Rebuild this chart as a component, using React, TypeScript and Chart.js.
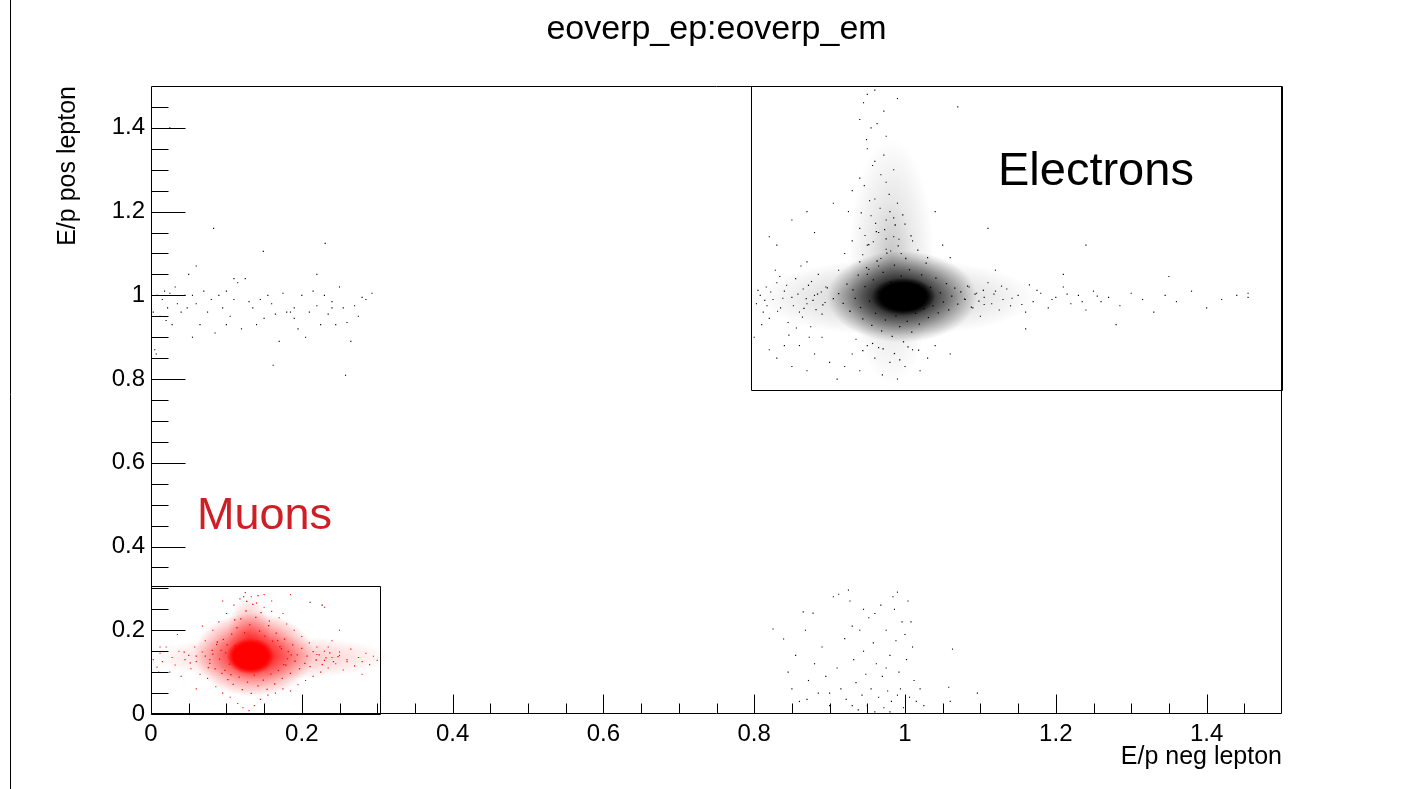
import React, { useEffect, useRef } from "react";
import { Chart, registerables } from "chart.js";

Chart.register(...registerables);

const FONT = "'Liberation Sans', Arial, Helvetica, sans-serif";

const chartTitle = "eoverp_ep:eoverp_em";
const xAxisTitle = "E/p neg lepton";
const yAxisTitle = "E/p pos lepton";

const axisMin = 0;
const axisMax = 1.5;
const majorTicks = [0, 0.2, 0.4, 0.6, 0.8, 1, 1.2, 1.4];
const majorTickLabels = ["0", "0.2", "0.4", "0.6", "0.8", "1", "1.2", "1.4"];
const minorTicks = [0.05, 0.1, 0.15, 0.25, 0.3, 0.35, 0.45, 0.5, 0.55, 0.65, 0.7, 0.75, 0.85, 0.9, 0.95, 1.05, 1.1, 1.15, 1.25, 1.3, 1.35, 1.45];

// selection boxes [xMin, yMin, xMax, yMax]
const electronBox = [0.796, 0.775, 1.5, 1.5];
const muonBox = [0, 0, 0.304, 0.305];

// text labels in data units
const electronLabel = { text: "Electrons", x: 1.1233, y: 1.263 };
const muonLabel = { text: "Muons", x: 0.061, y: 0.4414 };

// ---------- density centres of the two clusters ----------
const electronCoreCentre = [[0.998, 0.997]];
const electronDenseCentre = [[0.996, 0.997]];
const electronHorizontalCentre = [[0.99, 0.995]];
const electronVerticalCentre = [[0.982, 1.08]];
const muonCoreCentre = [[0.132, 0.138]];
const muonDenseCentre = [[0.136, 0.142]];
const muonUpperCentre = [[0.13, 0.18]];
const muonHorizontalCentre = [[0.16, 0.135]];

// ---------- Electron cluster entries (black) ----------
const electronHalo = [
  [0.912, 1.004], [0.918, 0.981], [0.923, 1.027], [0.927, 0.962], [0.931, 1.013], [0.934, 0.993], [0.938, 1.048],
  [0.941, 0.971], [0.944, 0.944], [0.947, 1.021], [0.949, 1.066], [0.953, 0.986], [0.956, 0.928], [0.958, 1.037],
  [0.961, 0.957], [0.963, 1.082], [0.966, 1.009], [0.969, 0.915], [0.971, 1.055], [0.974, 0.941], [0.976, 1.101],
  [0.979, 0.969], [0.981, 1.031], [0.983, 0.902], [0.986, 1.072], [0.988, 0.951], [0.991, 1.118], [0.993, 0.925],
  [0.995, 1.046], [0.998, 0.889], [1.001, 1.088], [1.003, 0.938], [1.006, 1.061], [1.009, 0.912], [1.011, 1.026],
  [1.014, 0.957], [1.017, 1.108], [1.019, 0.931], [1.022, 1.049], [1.025, 0.968], [1.028, 1.077], [1.031, 0.947],
  [1.034, 1.019], [1.037, 0.975], [1.041, 1.041], [1.044, 0.958], [1.047, 1.006], [1.051, 0.984], [1.055, 1.028],
  [1.058, 0.965], [1.062, 0.998], [1.066, 1.017], [1.07, 0.979], [1.074, 1.008], [1.079, 0.991], [1.083, 1.022],
  [1.088, 0.972], [1.093, 1.003], [1.098, 0.986], [1.104, 1.012], [0.905, 0.992], [0.897, 1.018], [0.891, 0.977],
  [0.884, 1.003], [0.878, 0.988], [0.872, 1.024], [0.866, 0.969], [0.975, 1.135], [0.962, 1.152], [0.987, 1.168],
  [1.008, 1.142], [0.952, 1.121], [0.997, 1.192], [0.971, 0.872], [0.986, 0.861], [1.004, 0.877], [0.957, 0.885],
  [1.018, 0.869], [0.944, 0.868], [0.993, 0.846],
];
const electronTail = [
  [0.803, 0.98], [0.808, 1.0], [0.812, 0.96], [0.816, 1.02], [0.82, 0.945], [0.825, 0.99], [0.83, 1.03],
  [0.835, 0.97], [0.84, 1.01], [0.845, 0.935], [0.85, 0.995], [0.855, 1.04], [0.86, 0.96], [0.865, 1.015],
  [0.87, 0.98], [0.875, 0.925], [0.88, 1.0], [0.885, 1.05], [0.89, 0.955], [0.895, 1.02], [0.81, 0.93],
  [0.828, 1.06], [0.846, 0.905], [0.862, 1.07], [0.873, 0.9],
  [0.805, 1.012], [0.814, 0.988], [0.822, 1.008], [0.831, 0.962], [0.838, 0.993], [0.843, 1.024], [0.852, 0.975],
  [0.858, 1.003], [0.864, 0.948], [0.869, 0.992], [0.876, 1.033], [0.882, 0.966], [0.889, 1.008], [0.894, 0.983],
  [0.817, 0.975], [0.834, 1.045], [0.856, 0.922],
  [1.08, 0.99], [1.085, 1.02], [1.09, 0.97], [1.095, 1.005], [1.1, 0.95], [1.105, 0.995], [1.11, 1.03],
  [1.115, 0.98], [1.12, 1.01], [1.125, 0.965], [1.13, 0.99], [1.135, 1.015], [1.14, 0.975], [1.15, 1.0],
  [1.16, 0.96], [1.165, 1.025], [1.17, 0.985], [1.18, 1.005], [1.19, 0.97], [1.2, 0.995], [1.21, 1.02],
  [1.22, 0.98], [1.23, 1.0], [1.24, 0.965], [1.25, 1.01], [1.26, 0.985], [1.27, 0.995], [1.285, 0.975],
  [1.3, 1.005], [1.315, 0.99], [1.33, 0.96], [1.345, 1.0], [1.36, 0.985], [1.38, 1.01], [1.4, 0.97],
  [1.42, 0.99], [1.44, 1.0], [1.455, 0.995], [1.455, 1.005], [1.12, 1.06], [1.16, 0.92], [1.21, 1.05],
  [1.28, 0.93], [1.35, 1.045],
  [1.105, 0.978], [1.118, 1.003], [1.128, 1.022], [1.142, 0.993], [1.155, 0.978], [1.175, 1.012], [1.195, 0.99],
  [1.215, 1.003], [1.235, 0.985], [1.255, 0.998],
  [0.96, 1.49], [0.945, 1.46], [0.99, 1.47], [1.07, 1.45], [0.94, 1.42], [0.955, 1.4], [0.975, 1.38],
  [0.95, 1.35], [0.96, 1.32], [0.985, 1.3], [0.94, 1.28], [0.975, 1.27], [0.93, 1.25], [0.96, 1.23],
  [0.99, 1.22], [0.925, 1.2], [0.955, 1.19], [0.975, 1.18], [1.0, 1.17], [0.94, 1.16], [0.965, 1.15],
  [0.985, 1.14], [0.93, 1.13], [1.01, 1.13], [0.95, 1.12], [0.975, 1.11], [0.92, 1.1], [0.995, 1.1],
  [1.03, 1.09], [0.94, 1.08], [0.965, 1.07], [0.88, 1.15], [1.05, 1.12], [0.905, 1.22], [1.04, 1.2],
  [0.87, 1.08], [1.06, 1.09], [0.95, 1.05], [0.912, 1.06], [0.98, 1.2],
  [0.952, 1.062], [0.968, 1.088], [0.944, 1.097], [0.981, 1.106], [0.958, 1.128], [0.992, 1.134], [0.947, 1.143],
  [0.973, 1.157], [0.961, 1.172], [0.985, 1.185], [0.942, 1.197], [0.967, 1.208], [0.953, 1.226], [0.979, 1.241],
  [0.946, 1.262], [0.968, 1.288], [0.957, 1.31], [0.972, 1.335], [0.949, 1.372], [0.963, 1.41], [0.972, 1.44],
  [0.95, 1.48],
  [0.95, 0.88], [0.93, 0.86], [0.96, 0.85], [0.98, 0.84], [1.0, 0.83], [0.92, 0.83], [0.94, 0.82],
  [0.97, 0.81], [0.99, 0.8], [1.02, 0.82], [0.9, 0.84], [0.88, 0.86], [0.87, 0.82], [0.91, 0.8],
  [0.86, 0.88], [1.03, 0.85], [1.01, 0.87], [0.935, 0.895], [0.965, 0.875], [1.04, 0.88], [0.85, 0.83],
  [0.83, 0.85], [0.82, 0.87], [0.89, 0.9], [1.06, 0.86],
  [0.82, 1.14], [0.85, 1.18], [0.83, 1.12], [0.87, 1.2], [0.84, 0.88], [0.8, 0.9], [1.11, 1.16],
  [1.24, 1.12], [1.16, 1.3],
];

// ---------- Muon cluster entries (red) ----------
const muonHalo = [
  [0.072, 0.138], [0.078, 0.121], [0.081, 0.152], [0.085, 0.108], [0.087, 0.166], [0.091, 0.131], [0.094, 0.097],
  [0.096, 0.178], [0.099, 0.146], [0.102, 0.082], [0.104, 0.119], [0.107, 0.191], [0.109, 0.071], [0.112, 0.163],
  [0.114, 0.206], [0.117, 0.088], [0.119, 0.227], [0.121, 0.058], [0.124, 0.194], [0.126, 0.246], [0.128, 0.076],
  [0.131, 0.213], [0.133, 0.049], [0.135, 0.262], [0.137, 0.093], [0.139, 0.231], [0.142, 0.067], [0.144, 0.198],
  [0.146, 0.242], [0.149, 0.081], [0.151, 0.186], [0.154, 0.059], [0.156, 0.211], [0.159, 0.095], [0.161, 0.174],
  [0.164, 0.072], [0.166, 0.193], [0.169, 0.104], [0.171, 0.161], [0.174, 0.085], [0.177, 0.179], [0.179, 0.117],
  [0.182, 0.149], [0.185, 0.097], [0.188, 0.165], [0.191, 0.126], [0.194, 0.141], [0.197, 0.108], [0.2, 0.157],
  [0.204, 0.121], [0.207, 0.138], [0.211, 0.113], [0.215, 0.149], [0.219, 0.129], [0.223, 0.141], [0.227, 0.118],
  [0.232, 0.134], [0.237, 0.146], [0.242, 0.125], [0.248, 0.137],
  [0.082, 0.143], [0.076, 0.111], [0.088, 0.172], [0.093, 0.152], [0.101, 0.165], [0.098, 0.104], [0.106, 0.094],
  [0.173, 0.156], [0.181, 0.132], [0.186, 0.141], [0.176, 0.118], [0.168, 0.175], [0.157, 0.222], [0.111, 0.225],
  [0.142, 0.283], [0.127, 0.269], [0.06, 0.138], [0.052, 0.122], [0.044, 0.148],
];
const muonTail = [
  [0.003, 0.13], [0.008, 0.112], [0.012, 0.145], [0.015, 0.125], [0.02, 0.16], [0.025, 0.1], [0.028, 0.135],
  [0.032, 0.117], [0.037, 0.15], [0.04, 0.09], [0.045, 0.13], [0.05, 0.14], [0.053, 0.108], [0.058, 0.16],
  [0.06, 0.125], [0.065, 0.095], [0.068, 0.148], [0.072, 0.175], [0.075, 0.085], [0.078, 0.13], [0.082, 0.2],
  [0.086, 0.065], [0.09, 0.22], [0.095, 0.05], [0.1, 0.24], [0.105, 0.04], [0.11, 0.26], [0.115, 0.025],
  [0.118, 0.275], [0.122, 0.015], [0.125, 0.29], [0.13, 0.008], [0.133, 0.28], [0.137, 0.02], [0.14, 0.265],
  [0.145, 0.035], [0.15, 0.255], [0.155, 0.045], [0.16, 0.245], [0.165, 0.05], [0.17, 0.23], [0.175, 0.06],
  [0.18, 0.215], [0.185, 0.055], [0.19, 0.2], [0.195, 0.07], [0.2, 0.185], [0.205, 0.08], [0.21, 0.17],
  [0.215, 0.09], [0.22, 0.16], [0.225, 0.1], [0.23, 0.15], [0.235, 0.11], [0.24, 0.175], [0.245, 0.12],
  [0.25, 0.14], [0.255, 0.105], [0.26, 0.13], [0.265, 0.155], [0.27, 0.115], [0.275, 0.135], [0.28, 0.125],
  [0.285, 0.145], [0.29, 0.118], [0.295, 0.138], [0.24, 0.135], [0.23, 0.128], [0.25, 0.148], [0.26, 0.125],
  [0.22, 0.142], [0.235, 0.16], [0.175, 0.24], [0.16, 0.27], [0.095, 0.27], [0.068, 0.21], [0.01, 0.1],
  [0.035, 0.19], [0.06, 0.06], [0.15, 0.285], [0.185, 0.285], [0.23, 0.255], [0.25, 0.2], [0.28, 0.095],
  [0.3, 0.128], [0.012, 0.16],
];

// ---------- Stray black entries ----------
const strayUpperLeft = [
  [0.003, 0.96], [0.008, 1.0], [0.012, 0.95], [0.015, 0.99], [0.018, 1.01], [0.02, 0.94], [0.022, 0.97],
  [0.025, 1.005], [0.028, 0.93], [0.032, 1.02], [0.035, 0.98], [0.04, 0.96], [0.045, 1.0], [0.048, 0.97],
  [0.055, 1.0], [0.06, 0.98], [0.065, 0.93], [0.07, 1.01], [0.075, 0.96], [0.08, 0.99], [0.085, 0.91],
  [0.09, 1.0], [0.095, 0.97], [0.1, 1.01], [0.105, 0.95], [0.11, 0.99], [0.115, 1.03], [0.12, 0.92],
  [0.125, 1.04], [0.13, 0.985], [0.135, 0.97], [0.14, 0.93], [0.145, 0.99], [0.15, 0.945], [0.155, 1.0],
  [0.16, 0.98], [0.165, 0.955], [0.17, 0.89], [0.175, 1.005], [0.18, 0.96], [0.185, 0.96], [0.19, 0.945],
  [0.195, 0.92], [0.2, 1.0], [0.205, 0.9], [0.21, 0.96], [0.215, 1.01], [0.22, 0.975], [0.225, 0.93],
  [0.23, 1.0], [0.235, 0.955], [0.24, 0.985], [0.245, 0.93], [0.25, 1.02], [0.255, 0.97], [0.26, 0.935],
  [0.265, 0.89], [0.27, 0.975], [0.275, 0.95], [0.28, 0.995], [0.285, 0.99], [0.293, 1.005], [0.05, 1.05],
  [0.06, 1.07], [0.11, 1.04], [0.149, 1.105], [0.083, 1.16], [0.231, 1.124], [0.22, 1.05], [0.162, 0.833],
  [0.258, 0.809], [0.025, 1.4], [0.005, 0.87], [0.007, 0.86], [0.055, 0.9], [0.1, 0.93], [0.19, 0.97],
  [0.24, 0.97],
];
const strayLowerMiddle = [
  [0.825, 0.203], [0.839, 0.179], [0.845, 0.1], [0.85, 0.06], [0.855, 0.14], [0.86, 0.03], [0.865, 0.244],
  [0.868, 0.2], [0.872, 0.08], [0.878, 0.241], [0.88, 0.12], [0.885, 0.05], [0.89, 0.16], [0.895, 0.09],
  [0.9, 0.02], [0.905, 0.28], [0.912, 0.286], [0.91, 0.11], [0.915, 0.06], [0.92, 0.18], [0.922, 0.035],
  [0.925, 0.296], [0.927, 0.27], [0.93, 0.21], [0.932, 0.13], [0.935, 0.075], [0.938, 0.01], [0.94, 0.2],
  [0.943, 0.045], [0.945, 0.15], [0.948, 0.095], [0.95, 0.02], [0.952, 0.23], [0.955, 0.06], [0.958, 0.17],
  [0.96, 0.005], [0.962, 0.12], [0.965, 0.04], [0.968, 0.26], [0.97, 0.09], [0.972, 0.015], [0.975, 0.2],
  [0.977, 0.055], [0.98, 0.14], [0.982, 0.03], [0.984, 0.28], [0.986, 0.25], [0.988, 0.175], [0.99, 0.291],
  [0.992, 0.1], [0.994, 0.06], [0.996, 0.22], [0.998, 0.015], [1.0, 0.19], [1.002, 0.13], [1.004, 0.27],
  [1.006, 0.04], [1.008, 0.22], [1.01, 0.16], [1.012, 0.08], [1.015, 0.03], [1.02, 0.06], [1.025, 0.02],
  [1.063, 0.155], [1.058, 0.064], [1.06, 0.03], [1.096, 0.05], [0.96, 0.24], [0.945, 0.25], [0.975, 0.11],
  [0.99, 0.045], [0.93, 0.02], [0.87, 0.035], [0.9, 0.05], [0.98, 0.005],
];
const strayInMuonBox = [[0.211, 0.267], [0.227, 0.26], [0.123, 0.28]];

const toPts = (arr: number[][]) => arr.map(([x, y]) => ({ x, y }));

const BLACK = "#000000";
const RED = "#ff0000";
const MUON_TEXT = "#cf1f26";

function makeBlob(w: number, h: number, rgb: string, stops: number[][]) {
  const c = document.createElement("canvas");
  c.width = w;
  c.height = h;
  const g = c.getContext("2d")!;
  g.translate(w / 2, h / 2);
  g.scale(w / 2, h / 2);
  const grad = g.createRadialGradient(0, 0, 0, 0, 0, 1);
  stops.forEach(([o, a]) => grad.addColorStop(o, `rgba(${rgb},${a})`));
  g.fillStyle = grad;
  g.beginPath();
  g.arc(0, 0, 1, 0, Math.PI * 2);
  g.fill();
  return c;
}

function dotSet(data: number[][], color: string, radius: number) {
  return {
    data: toPts(data),
    backgroundColor: color,
    borderWidth: 0,
    pointRadius: radius,
    pointHoverRadius: radius,
    pointStyle: "rect",
    order: 1,
  };
}

function cloudSet(data: number[][], blob: HTMLCanvasElement, order: number) {
  return {
    data: toPts(data),
    pointStyle: blob,
    pointRadius: 3,
    pointHoverRadius: 3,
    borderWidth: 0,
    backgroundColor: "rgba(0,0,0,0)",
    order,
  };
}

const framePlugin = {
  id: "rootFrame",
  afterDatasetsDraw(chart: any) {
    const { ctx, chartArea, scales } = chart;
    const xs = scales.x;
    const ys = scales.y;
    const L = Math.round(chartArea.left) + 0.5;
    const R = Math.round(chartArea.right) - 0.5;
    const T = Math.round(chartArea.top) + 0.5;
    const B = Math.round(chartArea.bottom) - 0.5;
    ctx.save();
    ctx.strokeStyle = "#000";
    ctx.lineWidth = 1;

    ctx.beginPath();
    ctx.moveTo(10.5, 0);
    ctx.lineTo(10.5, chart.height);
    ctx.stroke();

    ctx.beginPath();
    ctx.rect(L, T, R - L, B - T);
    ctx.stroke();

    const px = (v: number) => Math.round(xs.getPixelForValue(v)) + 0.5;
    const py = (v: number) => Math.round(ys.getPixelForValue(v)) + 0.5;
    ctx.beginPath();
    majorTicks.forEach((v) => {
      ctx.moveTo(px(v), B);
      ctx.lineTo(px(v), B - 19);
      ctx.moveTo(L, py(v));
      ctx.lineTo(L + 34, py(v));
    });
    minorTicks.forEach((v) => {
      ctx.moveTo(px(v), B);
      ctx.lineTo(px(v), B - 10);
      ctx.moveTo(L, py(v));
      ctx.lineTo(L + 17, py(v));
    });
    ctx.stroke();

    [electronBox, muonBox].forEach((b) => {
      const x0 = px(b[0]);
      const y0 = py(b[1]);
      const x1 = px(b[2]);
      const y1 = py(b[3]);
      ctx.beginPath();
      ctx.rect(Math.min(x0, x1), Math.min(y0, y1), Math.abs(x1 - x0), Math.abs(y1 - y0));
      ctx.stroke();
    });

    ctx.textAlign = "left";
    ctx.textBaseline = "alphabetic";
    ctx.fillStyle = "#000";
    ctx.font = `47px ${FONT}`;
    ctx.fillText(electronLabel.text, xs.getPixelForValue(electronLabel.x), ys.getPixelForValue(electronLabel.y));
    ctx.fillStyle = MUON_TEXT;
    ctx.font = `45px ${FONT}`;
    ctx.fillText(muonLabel.text, xs.getPixelForValue(muonLabel.x), ys.getPixelForValue(muonLabel.y));
    ctx.restore();
  },
};

export default function App() {
  const ref = useRef<HTMLCanvasElement | null>(null);

  useEffect(() => {
    document.body.style.margin = "0";
    const canvas = ref.current;
    if (!canvas) return;

    const eCore = makeBlob(64, 38, "0,0,0", [[0, 1], [0.72, 1], [1, 0]]);
    const eDense = makeBlob(150, 92, "0,0,0", [[0, 1], [0.4, 0.7], [0.75, 0.28], [1, 0]]);
    const eHoriz = makeBlob(280, 78, "0,0,0", [[0, 0.35], [0.5, 0.12], [1, 0]]);
    const eVert = makeBlob(86, 250, "0,0,0", [[0, 0.24], [0.5, 0.09], [1, 0]]);
    const mCore = makeBlob(48, 36, "255,0,0", [[0, 1], [0.72, 1], [1, 0]]);
    const mDense = makeBlob(120, 84, "255,0,0", [[0, 1], [0.4, 0.65], [0.75, 0.25], [1, 0]]);
    const mUp = makeBlob(44, 84, "255,0,0", [[0, 0.45], [1, 0]]);
    const mHoriz = makeBlob(240, 44, "255,0,0", [[0, 0.3], [1, 0]]);

    const chart = new Chart(canvas, {
      type: "scatter",
      data: {
        datasets: [
          dotSet(strayInMuonBox, BLACK, 0.8),
          dotSet(electronHalo, BLACK, 0.9),
          dotSet(electronTail, BLACK, 0.8),
          dotSet(muonHalo, RED, 0.9),
          dotSet(muonTail, RED, 0.8),
          dotSet(strayUpperLeft, BLACK, 0.8),
          dotSet(strayLowerMiddle, BLACK, 0.8),
          cloudSet(electronCoreCentre, eCore, 2),
          cloudSet(muonCoreCentre, mCore, 2),
          cloudSet(electronDenseCentre, eDense, 3),
          cloudSet(muonDenseCentre, mDense, 3),
          cloudSet(muonUpperCentre, mUp, 4),
          cloudSet(electronHorizontalCentre, eHoriz, 5),
          cloudSet(electronVerticalCentre, eVert, 5),
          cloudSet(muonHorizontalCentre, mHoriz, 5),
        ] as any,
      },
      options: {
        responsive: false,
        animation: false,
        devicePixelRatio: 1,
        events: [],
        layout: { padding: { left: 0, right: 122, top: 0, bottom: 0 } },
        plugins: {
          legend: { display: false },
          tooltip: { enabled: false },
          title: {
            display: true,
            text: chartTitle,
            fullSize: false,
            color: "#000",
            font: { family: FONT, size: 34, weight: "normal" },
            padding: { top: 9, bottom: 36.2 },
          },
        },
        scales: {
          x: {
            type: "linear",
            min: axisMin,
            max: axisMax,
            afterFit: (s: any) => {
              s.height = 75;
            },
            afterBuildTicks: (s: any) => {
              s.ticks = majorTicks.map((v) => ({ value: v }));
            },
            grid: { display: false, drawTicks: false },
            border: { display: false },
            ticks: {
              autoSkip: false,
              maxRotation: 0,
              padding: 6,
              color: "#000",
              font: { family: FONT, size: 24 },
              callback: (_v: any, i: number) => majorTickLabels[i],
            },
            title: {
              display: true,
              text: xAxisTitle,
              align: "end",
              color: "#000",
              font: { family: FONT, size: 25 },
              padding: { top: 0, bottom: 17 },
            },
          },
          y: {
            type: "linear",
            min: axisMin,
            max: axisMax,
            afterFit: (s: any) => {
              s.width = 151;
            },
            afterBuildTicks: (s: any) => {
              s.ticks = majorTicks.map((v) => ({ value: v }));
            },
            grid: { display: false, drawTicks: false },
            border: { display: false },
            ticks: {
              autoSkip: false,
              padding: 6,
              color: "#000",
              font: { family: FONT, size: 24 },
              callback: (_v: any, i: number) => majorTickLabels[i],
            },
            title: {
              display: true,
              text: yAxisTitle,
              align: "end",
              color: "#000",
              font: { family: FONT, size: 25 },
              padding: { top: 53, bottom: 0 },
            },
          },
        },
      } as any,
      plugins: [framePlugin],
    });
    return () => chart.destroy();
  }, []);

  return (
    <div style={{ position: "fixed", left: 0, top: 0, width: 1404, height: 789, background: "#fff" }}>
      <canvas ref={ref} width={1404} height={789} style={{ width: 1404, height: 789, display: "block" }} />
    </div>
  );
}
